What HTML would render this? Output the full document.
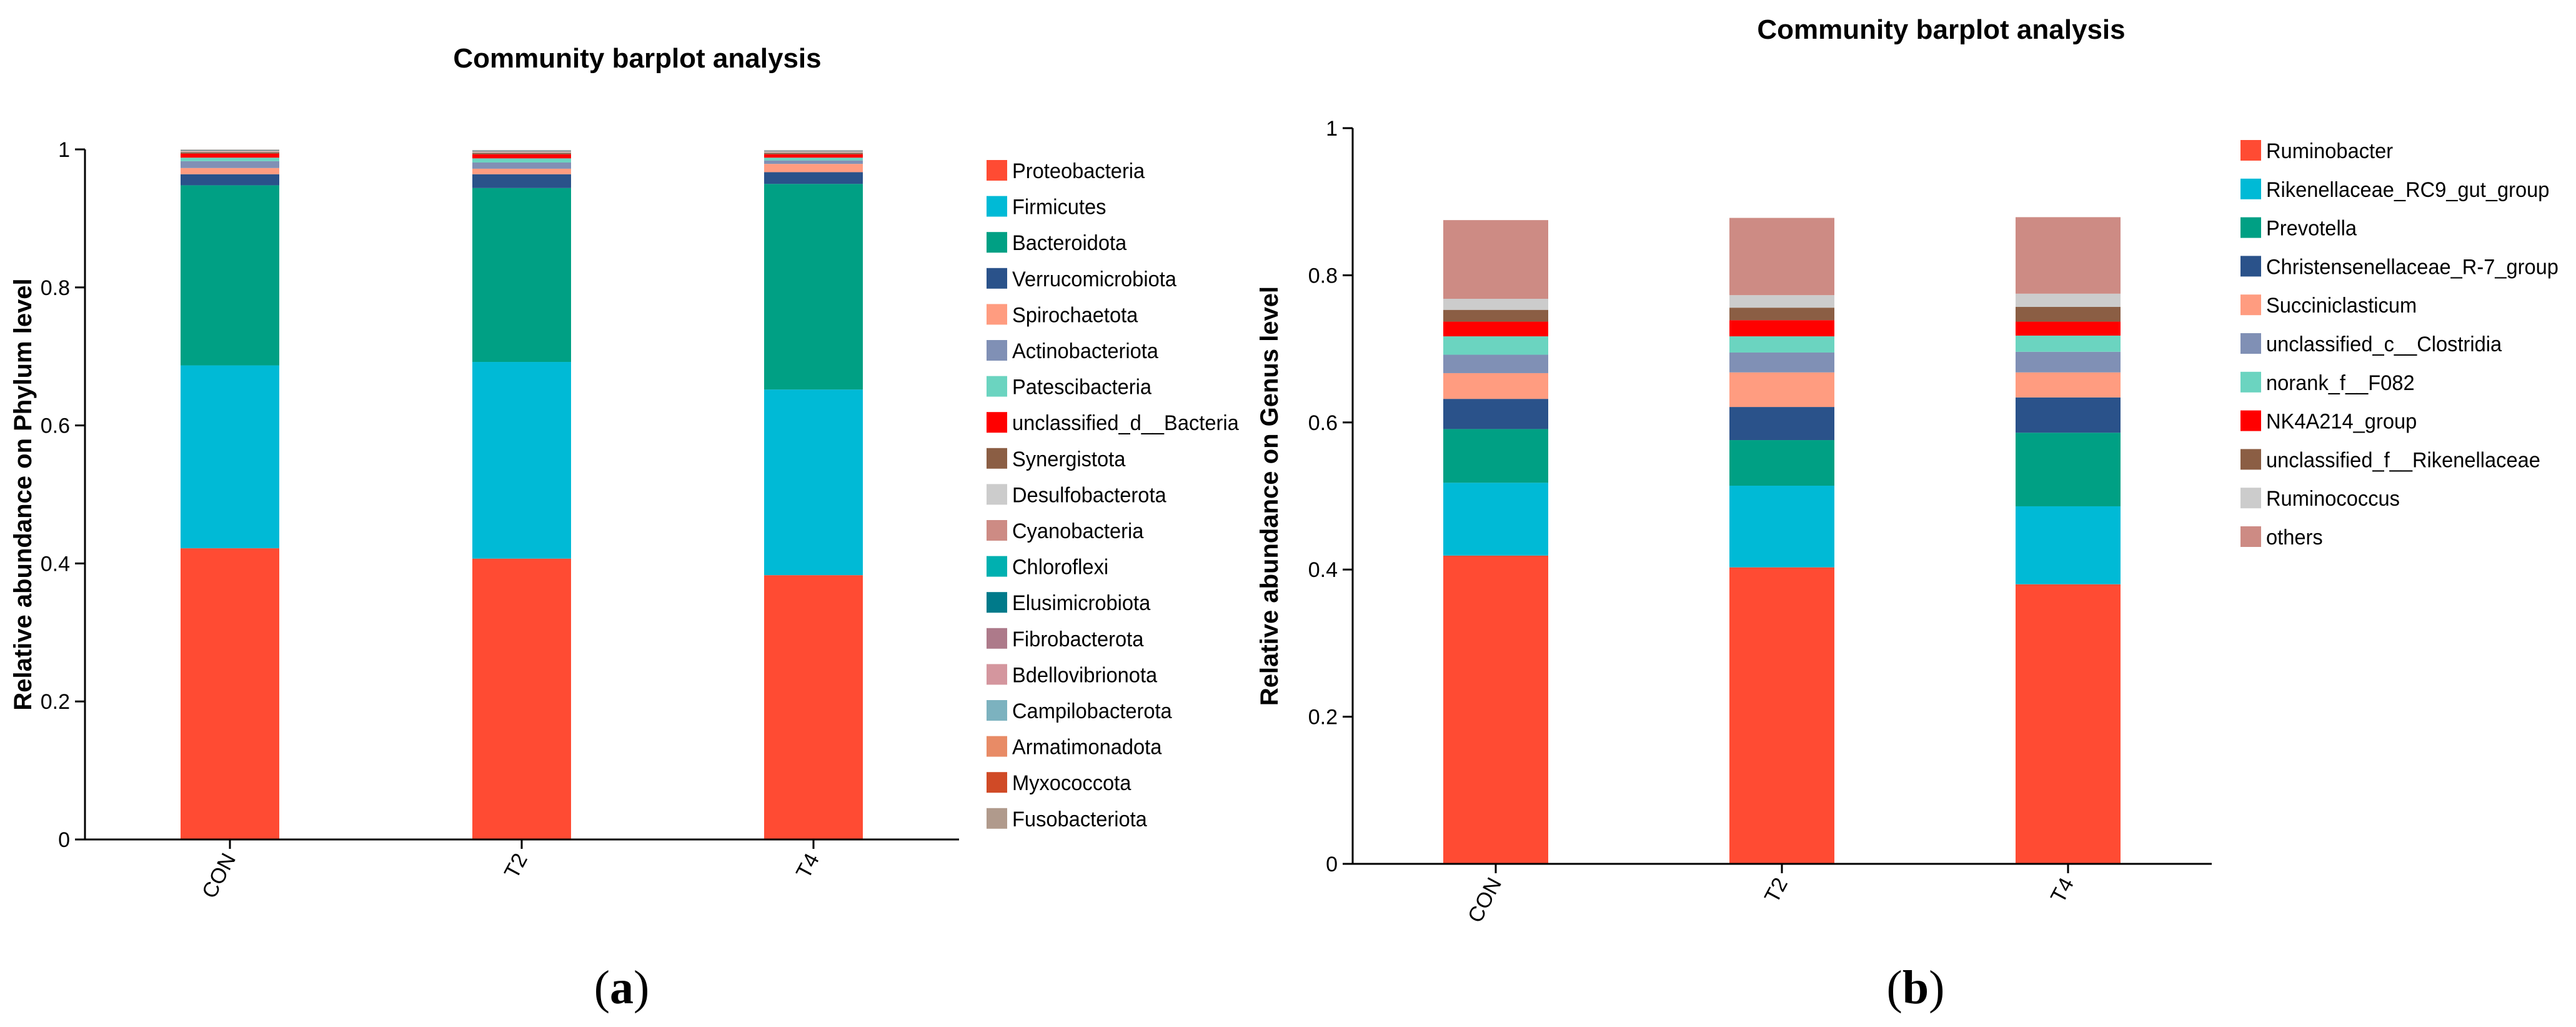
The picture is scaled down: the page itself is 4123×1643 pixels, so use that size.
<!DOCTYPE html>
<html><head><meta charset="utf-8"><style>
html,body{margin:0;padding:0;background:#fff;}
svg{display:block;}
text{font-family:"Liberation Sans",Arial,sans-serif;}
</style></head><body>
<svg id="fig" width="4123" height="1643" viewBox="0 0 4123 1643" xmlns="http://www.w3.org/2000/svg"></svg>
<script>
// ---- Panel (a): phylum data ----
const phylumSamples = ["CON", "T2", "T4"];
const phylumNames = ["Proteobacteria","Firmicutes","Bacteroidota","Verrucomicrobiota","Spirochaetota","Actinobacteriota","Patescibacteria","unclassified_d__Bacteria","Synergistota","Desulfobacterota","Cyanobacteria","Chloroflexi","Elusimicrobiota","Fibrobacterota","Bdellovibrionota","Campilobacterota","Armatimonadota","Myxococcota","Fusobacteriota"];
const phylumColors = ["#FF4B33","#00BAD6","#00A084","#2A528A","#FF9C80","#8090B5","#6BD4C0","#FF0000","#8B5E44","#CCCCCC","#CD8B84","#00B0B0","#007A8A","#AD7A8A","#D4969E","#7CB2BF","#E88B66","#D04A26","#B09A8C"];
const phylumCON = [0.422,0.265,0.261,0.016,0.009,0.010,0.005,0.006,0.002,0.0012,0.001,0.0004,0.0003,0.0003,0.0002,0.0002,0.0002,0.0001,0.0001];
const phylumT2  = [0.407,0.285,0.252,0.020,0.008,0.009,0.006,0.006,0.002,0.0013,0.001,0.0004,0.0003,0.0003,0.0002,0.0002,0.0002,0.0001,0.0001];
const phylumT4  = [0.383,0.269,0.298,0.017,0.012,0.005,0.004,0.005,0.002,0.0012,0.001,0.0004,0.0003,0.0003,0.0002,0.0002,0.0002,0.0001,0.0001];
const phylumTicks = [0, 0.2, 0.4, 0.6, 0.8, 1];
const phylumTickLabels = ["0","0.2","0.4","0.6","0.8","1"];

// ---- Panel (b): genus data ----
const genusSamples = ["CON", "T2", "T4"];
const genusNames = ["Ruminobacter","Rikenellaceae_RC9_gut_group","Prevotella","Christensenellaceae_R-7_group","Succiniclasticum","unclassified_c__Clostridia","norank_f__F082","NK4A214_group","unclassified_f__Rikenellaceae","Ruminococcus","others"];
const genusColors = ["#FF4B33","#00BAD6","#00A084","#2A528A","#FF9C80","#8090B5","#6BD4C0","#FF0000","#8B5E44","#CCCCCC","#CD8B84"];
const genusCON = [0.419,0.099,0.073,0.041,0.035,0.025,0.025,0.020,0.016,0.015,0.107];
const genusT2  = [0.403,0.111,0.062,0.045,0.047,0.027,0.022,0.022,0.017,0.017,0.105];
const genusT4  = [0.380,0.106,0.100,0.048,0.034,0.028,0.022,0.019,0.020,0.018,0.104];
const genusTicks = [0, 0.2, 0.4, 0.6, 0.8, 1];
const genusTickLabels = ["0","0.2","0.4","0.6","0.8","1"];

const NS = "http://www.w3.org/2000/svg";
const svg = document.getElementById("fig");
function mk(tag, attrs, parent){
  const e = document.createElementNS(NS, tag);
  for (const k in attrs) e.setAttribute(k, attrs[k]);
  (parent||svg).appendChild(e);
  return e;
}

function drawPanel(cfg){
  const g = mk("g", {});
  
  
  const yScale = v => cfg.y0 - v * (cfg.y0 - cfg.y1);
  const series = [cfg.s0, cfg.s1, cfg.s2];
  const nS = cfg.samples.length;
  const xCenter = i => cfg.firstCenter + i * cfg.step;

  const t = mk("text", {x: cfg.titleX, y: cfg.titleY, "text-anchor":"middle", "font-size":44, "font-weight":"bold"}, g);
  t.textContent = "Community barplot analysis";
  
  

  for (let i = 0; i < nS; i++){
    let acc = 0;
    for (let k = 0; k < cfg.names.length; k++){
      const v = series[i][k];
      const top = yScale(acc + v), bot = yScale(acc);
      const r = mk("rect", {x: xCenter(i) - cfg.barW/2, y: top, width: cfg.barW, height: Math.max(0, bot - top), fill: cfg.colors[k]}, g);
      
      
      acc += v;
    }
  }

  const ya = mk("line", {x1: cfg.axisX, y1: cfg.y1, x2: cfg.axisX, y2: cfg.y0, stroke:"#000", "stroke-width":3}, g);
  
  
  const xa = mk("line", {x1: cfg.axisX - 16, y1: cfg.y0, x2: cfg.xEnd, y2: cfg.y0, stroke:"#000", "stroke-width":3}, g);
  
  

  for (let j = 0; j < cfg.ticks.length; j++){
    const y = yScale(cfg.ticks[j]);
    const tl = mk("line", {x1: cfg.axisX - 16, y1: y, x2: cfg.axisX, y2: y, stroke:"#000", "stroke-width":3}, g);
    
    
    const tx = mk("text", {x: cfg.axisX - 24, y: y + 12, "text-anchor":"end", "font-size":34}, g);
    tx.textContent = cfg.tickLabels[j];
    
    
  }
  for (let i = 0; i < nS; i++){
    const x = xCenter(i);
    const tl = mk("line", {x1: x, y1: cfg.y0, x2: x, y2: cfg.y0 + 15, stroke:"#000", "stroke-width":3}, g);
    
    
    const tx = mk("text", {x: 0, y: 0, "text-anchor":"end", "font-size":34, transform:"translate(" + (x + 10) + "," + (cfg.y0 + 30) + ") rotate(-62)"}, g);
    tx.textContent = cfg.samples[i];
    
    
  }

  const yl = mk("text", {x:0, y:0, "text-anchor":"middle", "font-size":40, "font-weight":"bold", transform:"translate(" + cfg.yLabelX + "," + ((cfg.y0 + cfg.y1)/2) + ") rotate(-90)"}, g);
  yl.textContent = cfg.yLabel;
  
  

  for (let k = 0; k < cfg.names.length; k++){
    const y = cfg.legY + k * cfg.legStep;
    const sw = mk("rect", {x: cfg.legX, y: y, width: 33, height: 33, fill: cfg.colors[k]}, g);
    
    
    const lt = mk("text", {x: 0, y: 0, "font-size":34, transform:"translate(" + (cfg.legX + 41) + "," + (y + 29) + ") scale(0.96,1)"}, g);
    lt.textContent = cfg.names[k];
    
    
  }

  const pl = mk("text", {x: cfg.letterX, y: 1605, "text-anchor":"middle", "font-size":76, style:"font-family:'Liberation Serif',serif"}, g);
  pl.innerHTML = '(<tspan font-weight="bold">' + cfg.letter + '</tspan>)';
  
  
}

drawPanel({name:"phylum-chart", samples: phylumSamples, names: phylumNames, colors: phylumColors,
  s0: phylumCON, s1: phylumT2, s2: phylumT4, ticks: phylumTicks, tickLabels: phylumTickLabels,
  y0: 1343, y1: 239, axisX: 136, xEnd: 1535, firstCenter: 368, step: 467, barW: 158,
  titleX: 1020, titleY: 108, yLabelX: 50, yLabel: "Relative abundance on Phylum level",
  legX: 1579, legY: 256, legStep: 57.6, letterX: 995, letter: "a"});

drawPanel({name:"genus-chart", samples: genusSamples, names: genusNames, colors: genusColors,
  s0: genusCON, s1: genusT2, s2: genusT4, ticks: genusTicks, tickLabels: genusTickLabels,
  y0: 1382, y1: 205, axisX: 2165, xEnd: 3540, firstCenter: 2394, step: 458, barW: 168,
  titleX: 3107, titleY: 62, yLabelX: 2045, yLabel: "Relative abundance on Genus level",
  legX: 3586, legY: 224, legStep: 61.8, letterX: 3066, letter: "b"});
</script>
</body></html>
